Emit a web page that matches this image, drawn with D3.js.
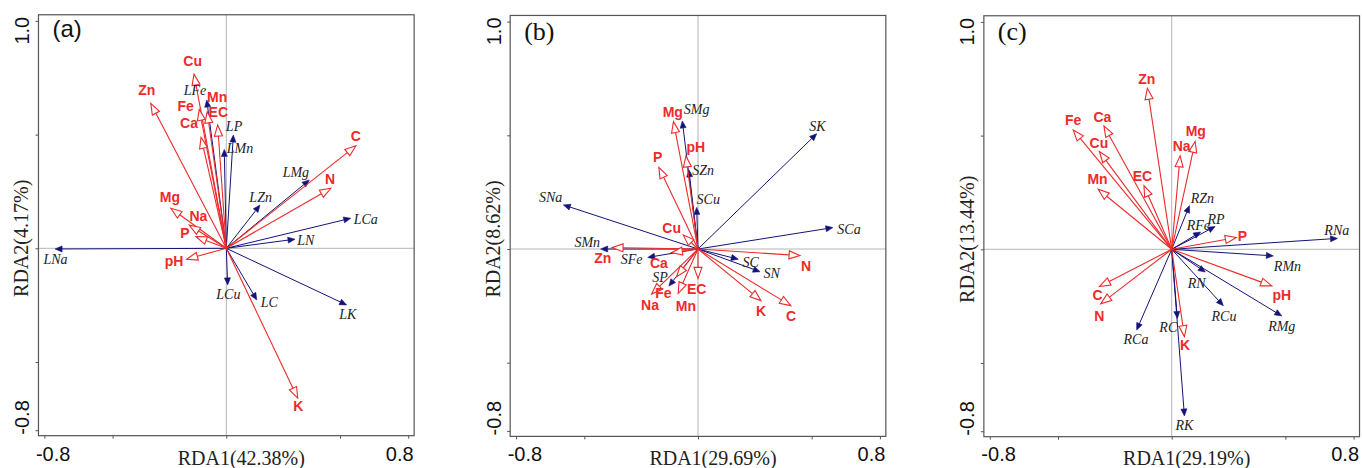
<!DOCTYPE html>
<html><head><meta charset="utf-8">
<script src="https://cdn.jsdelivr.net/npm/d3@7"></script>
<style>body{margin:0;background:#fff} svg{display:block}</style>
</head><body><svg id="chart" width="1362" height="468"></svg>
<script>
// ---------- shared text ----------
const panelLetters = ["(a)", "(b)", "(c)"];
const xTitles = ["RDA1(42.38%)", "RDA1(29.69%)", "RDA1(29.19%)"];
const yTitles = ["RDA2(4.17%)", "RDA2(8.62%)", "RDA2(13.44%)"];
const xTickValues = [-0.8, -0.5, 0, 0.5, 0.8];
const yTickValues = [-0.8, -0.5, 0, 0.5, 1.0];
const xTickLabels = ["-0.8", "0.8"];
const yTickLabels = ["-0.8", "1.0"];

// ---------- panel (a) ----------
const aEnvNames = ["Cu","Zn","Fe","Mn","EC","Ca","Mg","Na","P","pH","C","N","K"];
const aEnvX = [-0.142,-0.332,-0.119,-0.084,-0.038,-0.111,-0.244,-0.163,-0.134,-0.174,0.570,0.460,0.314];
const aEnvY = [0.766,0.637,0.611,0.600,0.542,0.488,0.176,0.102,0.052,-0.048,0.451,0.264,-0.659];
const aEnvLabX = [-0.148,-0.350,-0.179,-0.040,-0.035,-0.164,-0.248,-0.123,-0.182,-0.230,0.570,0.456,0.317];
const aEnvLabY = [0.824,0.696,0.626,0.663,0.598,0.550,0.223,0.142,0.066,-0.056,0.494,0.304,-0.696];
const aSpNames = ["LNa","LFe","LP","LMn","LMg","LZn","LCa","LN","LCu","LC","LK"];
const aSpX = [-0.753,-0.086,0.031,-0.009,0.365,0.148,0.547,0.302,0.006,0.134,0.529];
const aSpY = [-0.003,0.652,0.498,0.435,0.300,0.190,0.132,0.040,-0.161,-0.227,-0.249];
const aSpLabX = [-0.751,-0.138,0.034,0.060,0.306,0.151,0.613,0.350,0.009,0.189,0.534];
const aSpLabY = [-0.048,0.694,0.538,0.440,0.337,0.223,0.129,0.037,-0.201,-0.235,-0.289];

// ---------- panel (b) ----------
const bEnvNames = ["Mg","pH","P","Cu","Zn","Ca","Fe","Na","Mn","EC","K","C","N"];
const bEnvX = [-0.108,-0.053,-0.172,-0.065,-0.378,-0.117,-0.094,-0.204,-0.087,0.000,0.277,0.408,0.449];
const bEnvY = [0.560,0.409,0.359,0.062,0.006,-0.016,-0.122,-0.198,-0.195,-0.129,-0.227,-0.249,-0.029];
const bEnvLabX = [-0.111,-0.010,-0.177,-0.116,-0.419,-0.172,-0.152,-0.211,-0.053,-0.006,0.277,0.409,0.475];
const bEnvLabY = [0.600,0.450,0.403,0.094,-0.041,-0.063,-0.192,-0.246,-0.251,-0.177,-0.271,-0.295,-0.075];
const bSpNames = ["SMg","SZn","SCu","SK","SCa","SNa","SMn","SFe","SP","SC","SN"];
const bSpX = [-0.069,-0.040,-0.006,0.522,0.593,-0.592,-0.428,-0.221,-0.128,0.177,0.273];
const bSpY = [0.563,0.348,0.183,0.507,0.094,0.194,0.000,-0.037,-0.163,-0.045,-0.100];
const bSpLabX = [-0.006,0.023,0.045,0.525,0.664,-0.648,-0.487,-0.292,-0.167,0.232,0.324];
const bSpLabY = [0.614,0.348,0.220,0.541,0.088,0.230,0.032,-0.045,-0.122,-0.056,-0.104];

// ---------- panel (c) ----------
const cEnvNames = ["Zn","Fe","Ca","Cu","Mn","EC","Na","Mg","P","pH","K","C","N"];
const cEnvX = [-0.107,-0.433,-0.298,-0.318,-0.323,-0.122,0.037,0.103,0.284,0.440,0.056,-0.318,-0.312];
const cEnvY = [0.708,0.525,0.543,0.430,0.264,0.280,0.411,0.474,0.052,-0.161,-0.384,-0.164,-0.240];
const cEnvLabX = [-0.110,-0.433,-0.305,-0.320,-0.326,-0.129,0.044,0.106,0.311,0.484,0.059,-0.326,-0.318];
const cEnvLabY = [0.748,0.569,0.581,0.469,0.309,0.323,0.456,0.518,0.056,-0.201,-0.421,-0.201,-0.293];
const cSpNames = ["RZn","RFe","RP","RNa","RMn","RN","RCu","RMg","RC","RCa","RK"];
const cSpX = [0.078,0.127,0.191,0.729,0.447,0.148,0.227,0.484,0.025,-0.154,0.056];
const cSpY = [0.192,0.076,0.100,0.048,-0.029,-0.100,-0.248,-0.293,-0.304,-0.355,-0.733];
const cSpLabX = [0.135,0.117,0.195,0.726,0.509,0.110,0.230,0.484,-0.015,-0.157,0.056];
const cSpLabY = [0.224,0.107,0.133,0.085,-0.072,-0.147,-0.293,-0.337,-0.343,-0.394,-0.773];

// ---------- layout ----------
const UNIT = 227.4;
const panelCenters = [[226.3, 248.3], [698.0, 249.0], [1171.7, 249.3]];
const xDom = [-0.826, 0.826], yDom = [-0.824, 1.027];
const RED = "#ee2a2a", NAVY = "#13137a";

const panels = [
  {env:[aEnvNames,aEnvX,aEnvY,aEnvLabX,aEnvLabY], sp:[aSpNames,aSpX,aSpY,aSpLabX,aSpLabY], letterFont:"'Liberation Sans', Arial, sans-serif", letterSize:24},
  {env:[bEnvNames,bEnvX,bEnvY,bEnvLabX,bEnvLabY], sp:[bSpNames,bSpX,bSpY,bSpLabX,bSpLabY], letterFont:"'Liberation Serif', 'Times New Roman', serif", letterSize:26},
  {env:[cEnvNames,cEnvX,cEnvY,cEnvLabX,cEnvLabY], sp:[cSpNames,cSpX,cSpY,cSpLabX,cSpLabY], letterFont:"'Liberation Serif', 'Times New Roman', serif", letterSize:26}
];

const svg = d3.select("#chart");
const SANS = "'Liberation Sans', Arial, sans-serif";
const SERIF = "'Liberation Serif', 'Times New Roman', serif";

function rows(arr){ return arr[0].map((n,i)=>({name:n, x:arr[1][i], y:arr[2][i], lx:arr[3][i], ly:arr[4][i]})); }

panels.forEach((p, pi) => {
  const [cx, cy] = panelCenters[pi];
  const x = d3.scaleLinear().domain(xDom).range([cx + xDom[0]*UNIT, cx + xDom[1]*UNIT]);
  const y = d3.scaleLinear().domain(yDom).range([cy - yDom[0]*UNIT, cy - yDom[1]*UNIT]);
  const L = x(xDom[0]), R = x(xDom[1]), T = y(yDom[1]), B = y(yDom[0]);
  const g = svg.append("g");

  // zero lines
  g.append("line").attr("x1",L).attr("x2",R).attr("y1",y(0)).attr("y2",y(0)).attr("stroke","#b4b4b4").attr("stroke-width",1);
  g.append("line").attr("x1",x(0)).attr("x2",x(0)).attr("y1",T).attr("y2",B).attr("stroke","#b4b4b4").attr("stroke-width",1);

  // axes ticks
  const ax = g.append("g").attr("transform",`translate(0,${B})`)
    .call(d3.axisBottom(x).tickValues(xTickValues).tickSize(3).tickSizeOuter(0).tickFormat(()=>""));
  const ay = g.append("g").attr("transform",`translate(${L},0)`)
    .call(d3.axisLeft(y).tickValues(yTickValues).tickSize(3).tickSizeOuter(0).tickFormat(()=>""));
  [ax, ay].forEach(a => { a.select(".domain").remove(); a.selectAll("line").attr("stroke","#555"); });

  // box
  g.append("rect").attr("x",L).attr("y",T).attr("width",R-L).attr("height",B-T)
    .attr("fill","none").attr("stroke","#555").attr("stroke-width",1.2);

  // tick labels
  g.append("text").attr("x",L-2.5).attr("y",460.5).attr("text-anchor","start")
    .attr("font-family",SANS).attr("font-size",20).attr("fill","#111").text(xTickLabels[0]);
  g.append("text").attr("x",R-0.5).attr("y",460.5).attr("text-anchor","end")
    .attr("font-family",SANS).attr("font-size",20).attr("fill","#111").text(xTickLabels[1]);
  g.append("text").attr("transform",`translate(${L-9.5},${B-1}) rotate(-90)`).attr("text-anchor","start")
    .attr("font-family",SANS).attr("font-size",20).attr("fill","#111").text(yTickLabels[0]);
  g.append("text").attr("transform",`translate(${L-9.5},${T+2}) rotate(-90)`).attr("text-anchor","end")
    .attr("font-family",SANS).attr("font-size",20).attr("fill","#111").text(yTickLabels[1]);

  // axis titles
  g.append("text").attr("x",x(0)+15).attr("y",465).attr("text-anchor","middle")
    .attr("font-family",SERIF).attr("font-size",20).attr("fill","#222").text(xTitles[pi]);
  g.append("text").attr("transform",`translate(${L-10},${y(0)-10}) rotate(-90)`).attr("text-anchor","middle")
    .attr("font-family",SERIF).attr("font-size",20).attr("fill","#222").text(yTitles[pi]);

  // panel letter
  g.append("text").attr("x",L+14).attr("y",pi===0?37:40)
    .attr("font-family",p.letterFont).attr("font-size",p.letterSize).attr("fill","#111").text(panelLetters[pi]);

  const ox = x(0), oy = y(0);
  function head(d, len, hw){
    const tx = x(d.x), ty = y(d.y);
    const dx = tx-ox, dy = ty-oy, m = Math.hypot(dx,dy);
    const ux = dx/m, uy = dy/m;
    const bx = tx-ux*len, by = ty-uy*len;
    return {tx,ty,bx,by,pts:[[tx,ty],[bx-uy*hw,by+ux*hw],[bx+uy*hw,by-ux*hw]]};
  }

  // species arrows (navy, filled heads)
  const sp = rows(p.sp);
  sp.forEach(d => {
    const h = head(d, 7, 3);
    g.append("line").attr("x1",ox).attr("y1",oy).attr("x2",h.bx).attr("y2",h.by).attr("stroke",NAVY).attr("stroke-width",1);
    g.append("polygon").attr("points",h.pts.map(q=>q.join(",")).join(" ")).attr("fill",NAVY).attr("stroke",NAVY).attr("stroke-width",0.6);
  });
  // environmental arrows (red, open heads)
  const env = rows(p.env);
  env.forEach(d => {
    const h = head(d, 11, 4);
    g.append("line").attr("x1",ox).attr("y1",oy).attr("x2",h.bx).attr("y2",h.by).attr("stroke",RED).attr("stroke-width",1.1);
    g.append("polygon").attr("points",h.pts.map(q=>q.join(",")).join(" ")).attr("fill","#fff").attr("stroke",RED).attr("stroke-width",1.1);
  });
  // labels
  sp.forEach(d => {
    g.append("text").attr("x",x(d.lx)).attr("y",y(d.ly)).attr("dy","0.35em").attr("text-anchor","middle")
      .attr("font-family",SERIF).attr("font-style","italic").attr("font-size",14).attr("fill","#222").text(d.name);
  });
  env.forEach(d => {
    g.append("text").attr("x",x(d.lx)).attr("y",y(d.ly)).attr("dy","0.35em").attr("text-anchor","middle")
      .attr("font-family",SANS).attr("font-weight","bold").attr("font-size",14).attr("fill",RED).text(d.name);
  });
});
</script></body></html>
